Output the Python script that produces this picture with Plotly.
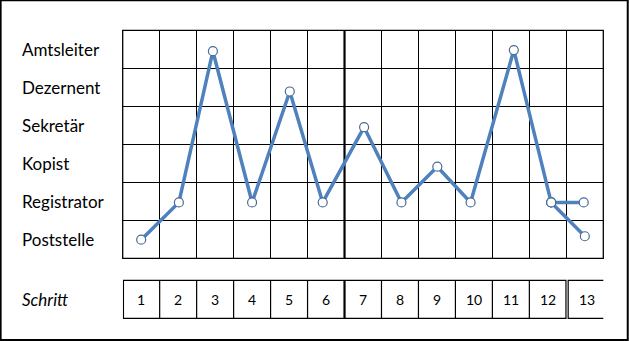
import plotly.graph_objects as go

# ---- data ----
levels = ["Poststelle", "Registrator", "Kopist", "Sekretär", "Dezernent", "Amtsleiter"]
steps = [str(i) for i in range(1, 14)]
# main path (steps 1..12), x = step position, y = level index (0 = Poststelle)
path_x = [1.0, 2.02, 2.94, 4.0, 5.02, 5.91, 7.03, 8.04, 9.01, 9.91, 11.08, 12.09]
path_y = [-0.01, 0.97, 4.95, 0.97, 3.89, 0.97, 2.95, 0.97, 1.91, 0.97, 4.98, 0.97]
# branch at step 13 (two alternatives starting from step 12)
branch_x = [12.97, 13.0]
branch_y = [0.97, 0.08]
row_label = "Schritt"

W, H = 629, 341
FONT = "Lato"
LINE = "#4F81BD"
MK = dict(size=9, color="white", line=dict(color="#4a6b95", width=1.2))

fig = go.Figure()
# branch lines first (under markers)
for bx, by in zip(branch_x, branch_y):
    fig.add_trace(go.Scatter(x=[path_x[-1], bx], y=[path_y[-1], by], mode="lines+markers",
                             line=dict(color=LINE, width=3.5), marker=MK,
                             hoverinfo="skip", showlegend=False))
fig.add_trace(go.Scatter(x=path_x, y=path_y, mode="lines+markers",
                         line=dict(color=LINE, width=3.5), marker=MK,
                         showlegend=False))

n = len(steps)
half_ticks_x = [i + 0.5 for i in range(0, n + 1)]
half_ticks_y = [i - 0.5 for i in range(0, len(levels) + 1)]

x0p, x1p = 122.7 / W, 603.3 / W
y_top, y_bot = 30.3, 258.3
fig.update_layout(
    width=W, height=H, margin=dict(l=0, r=0, t=0, b=0),
    paper_bgcolor="white", plot_bgcolor="white",
    xaxis=dict(domain=[x0p, x1p], range=[0.5, n + 0.5], tickvals=half_ticks_x,
               showticklabels=False, ticks="", showgrid=True, gridcolor="black",
               gridwidth=1, zeroline=False, showline=False, fixedrange=True),
    yaxis=dict(domain=[1 - y_bot / H, 1 - y_top / H], range=[-0.5, len(levels) - 0.5],
               tickvals=half_ticks_y, showticklabels=False, ticks="", showgrid=True,
               gridcolor="black", gridwidth=1, zeroline=False, showline=False, fixedrange=True),
    font=dict(family=FONT, color="black"),
)

shapes = []
# grid border
shapes.append(dict(type="rect", xref="x domain", yref="y domain", x0=0, x1=1, y0=0, y1=1,
                   line=dict(color="black", width=1.3), layer="below"))
# thick separator between step 6 and 7
shapes.append(dict(type="line", xref="x", yref="y domain", x0=6.5, x1=6.5, y0=0, y1=1,
                   line=dict(color="black", width=2.2), layer="below"))

# step boxes
by0, by1 = 1 - 318.3 / H, 1 - 280.3 / H
shapes.append(dict(type="rect", xref="x", yref="paper", x0=0.52, x1=12.49, y0=by0, y1=by1,
                   line=dict(color="black", width=1.2)))
for i in range(1, 12):
    shapes.append(dict(type="line", xref="x", yref="paper", x0=i + 0.5, x1=i + 0.5,
                       y0=by0, y1=by1,
                       line=dict(color="black", width=2.2 if i == 6 else 1.2)))
shapes.append(dict(type="rect", xref="x", yref="paper", x0=12.55, x1=13.58, y0=by0, y1=by1,
                   line=dict(color="black", width=1.2)))
# outer frame
shapes.append(dict(type="rect", xref="paper", yref="paper", x0=0.001, x1=0.998, y0=0.003, y1=0.999,
                   line=dict(color="black", width=2)))

annotations = []
for i, lab in enumerate(levels):
    annotations.append(dict(text=lab, xref="paper", yref="y", x=20 / W, y=i, xanchor="left",
                            yanchor="middle", showarrow=False, font=dict(size=17, family=FONT)))
annotations.append(dict(text="<i>" + row_label + "</i>", xref="paper", yref="paper", x=20 / W,
                        y=(by0 + by1) / 2, xanchor="left", yanchor="middle", showarrow=False,
                        font=dict(size=17, family=FONT)))
for i, s in enumerate(steps):
    xc = i + 1 if i < 12 else (12.55 + 13.58) / 2
    annotations.append(dict(text=s, xref="x", yref="paper", x=xc, y=(by0 + by1) / 2,
                            xanchor="center", yanchor="middle", showarrow=False,
                            font=dict(size=14, family=FONT)))

fig.update_layout(shapes=shapes, annotations=annotations)
fig.write_html("out.html")
